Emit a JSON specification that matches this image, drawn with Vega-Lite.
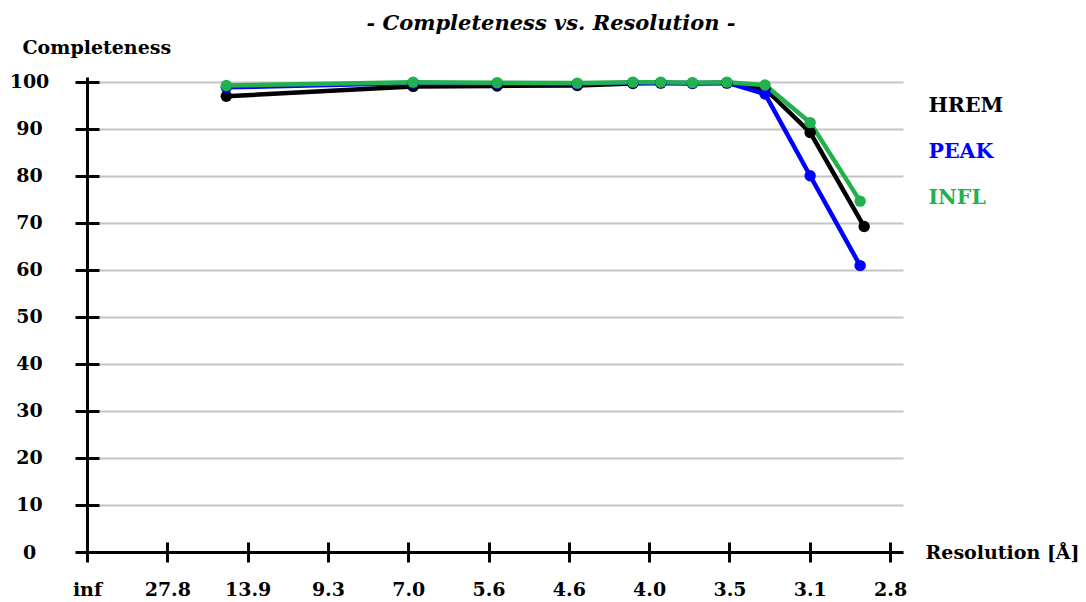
{
  "$schema": "https://vega.github.io/schema/vega-lite/v6.json",
  "width": 816,
  "height": 475,
  "autosize": "none",
  "padding": {"left": 87, "top": 77, "right": 183, "bottom": 50},
  "background": "white",
  "title": {
    "text": "- Completeness vs. Resolution -",
    "font": "DejaVu Serif",
    "fontSize": 21,
    "fontWeight": "bold",
    "fontStyle": "italic",
    "color": "#000000",
    "anchor": "middle",
    "dx": 56,
    "offset": 4
  },
  "config": {
    "view": {"stroke": null},
    "font": "DejaVu Serif"
  },
  "data": {
    "values": [
      {"series": "HREM", "inv_res": 0.0624, "completeness": 96.9},
      {"series": "HREM", "inv_res": 0.1461, "completeness": 99.0},
      {"series": "HREM", "inv_res": 0.1837, "completeness": 99.1},
      {"series": "HREM", "inv_res": 0.2196, "completeness": 99.2},
      {"series": "HREM", "inv_res": 0.2445, "completeness": 99.6},
      {"series": "HREM", "inv_res": 0.2570, "completeness": 99.7},
      {"series": "HREM", "inv_res": 0.2712, "completeness": 99.6},
      {"series": "HREM", "inv_res": 0.2866, "completeness": 99.7},
      {"series": "HREM", "inv_res": 0.3037, "completeness": 98.5},
      {"series": "HREM", "inv_res": 0.3239, "completeness": 89.2},
      {"series": "HREM", "inv_res": 0.3481, "completeness": 69.2},
      {"series": "PEAK", "inv_res": 0.0624, "completeness": 98.8},
      {"series": "PEAK", "inv_res": 0.1461, "completeness": 99.7},
      {"series": "PEAK", "inv_res": 0.1837, "completeness": 99.6},
      {"series": "PEAK", "inv_res": 0.2196, "completeness": 99.5},
      {"series": "PEAK", "inv_res": 0.2445, "completeness": 99.8},
      {"series": "PEAK", "inv_res": 0.2570, "completeness": 99.8},
      {"series": "PEAK", "inv_res": 0.2712, "completeness": 99.7},
      {"series": "PEAK", "inv_res": 0.2866, "completeness": 99.8},
      {"series": "PEAK", "inv_res": 0.3037, "completeness": 97.4},
      {"series": "PEAK", "inv_res": 0.3239, "completeness": 80.0},
      {"series": "PEAK", "inv_res": 0.3463, "completeness": 60.9},
      {"series": "INFL", "inv_res": 0.0624, "completeness": 99.2},
      {"series": "INFL", "inv_res": 0.1461, "completeness": 99.9},
      {"series": "INFL", "inv_res": 0.1837, "completeness": 99.8},
      {"series": "INFL", "inv_res": 0.2196, "completeness": 99.7},
      {"series": "INFL", "inv_res": 0.2445, "completeness": 99.9},
      {"series": "INFL", "inv_res": 0.2570, "completeness": 99.9},
      {"series": "INFL", "inv_res": 0.2712, "completeness": 99.8},
      {"series": "INFL", "inv_res": 0.2866, "completeness": 99.9},
      {"series": "INFL", "inv_res": 0.3037, "completeness": 99.3},
      {"series": "INFL", "inv_res": 0.3239, "completeness": 91.3},
      {"series": "INFL", "inv_res": 0.3463, "completeness": 74.6}
    ]
  },
  "layer": [
    {
      "mark": {"type": "line", "strokeWidth": 4.5},
      "encoding": {
        "x": {
          "field": "inv_res",
          "type": "quantitative",
          "scale": {"domain": [0, 0.3655], "nice": false, "zero": false},
          "axis": {
            "orient": "bottom",
            "values": [0, 0.035971, 0.071942, 0.107914, 0.143885, 0.179856, 0.215827, 0.251799, 0.28777, 0.323741, 0.359712],
            "labelExpr": "['inf','27.8','13.9','9.3','7.0','5.6','4.6','4.0','3.5','3.1','2.8'][round(datum.value*27.8)]",
            "grid": false,
            "tickSize": 10,
            "tickWidth": 3,
            "tickColor": "#000000",
            "domainColor": "#000000",
            "domainWidth": 3,
            "labelFont": "DejaVu Serif",
            "labelFontSize": 19,
            "labelFontWeight": "bold",
            "labelColor": "#000000",
            "labelPadding": 18,
            "labelOverlap": false,
            "labelFlush": false,
            "title": "Resolution [Å]",
            "titleFont": "DejaVu Serif",
            "titleFontSize": 19,
            "titleFontWeight": "bold",
            "titleColor": "#000000",
            "titleX": 838,
            "titleY": 0,
            "titleAlign": "left",
            "titleBaseline": "middle",
            "titleAnchor": null
          }
        },
        "y": {
          "field": "completeness",
          "type": "quantitative",
          "scale": {"domain": [0, 101], "nice": false},
          "axis": {
            "orient": "left",
            "values": [0, 10, 20, 30, 40, 50, 60, 70, 80, 90, 100],
            "grid": true,
            "gridColor": "#c4c4c4",
            "gridWidth": 2,
            "tickSize": 12,
            "tickWidth": 3,
            "tickColor": "#000000",
            "domainColor": "#000000",
            "domainWidth": 3,
            "labelFont": "DejaVu Serif",
            "labelFontSize": 19,
            "labelFontWeight": "bold",
            "labelColor": "#000000",
            "labelAlign": "center",
            "labelBaseline": "middle",
            "labelPadding": 46,
            "title": "Completeness",
            "titleFont": "DejaVu Serif",
            "titleFontSize": 19,
            "titleFontWeight": "bold",
            "titleColor": "#000000",
            "titleAngle": 0,
            "titleX": -65,
            "titleY": -30,
            "titleAlign": "left",
            "titleBaseline": "middle",
            "titleAnchor": null
          }
        },
        "color": {
          "field": "series",
          "type": "nominal",
          "scale": {"domain": ["HREM", "PEAK", "INFL"], "range": ["#000000", "#0000ff", "#22b14c"]},
          "legend": {
            "orient": "none",
            "legendX": 821,
            "legendY": 19,
            "title": null,
            "symbolSize": 0,
            "symbolStrokeWidth": 0,
            "symbolOpacity": 0,
            "labelOffset": 0,
            "labelFont": "DejaVu Serif",
            "labelFontSize": 20.5,
            "labelFontWeight": "bold",
            "labelBaseline": "middle",
            "rowPadding": 24.8,
            "encode": {"labels": {"update": {"fill": {"scale": "color", "field": "value"}}}}
          }
        }
      }
    },
    {
      "mark": {"type": "point", "filled": true, "size": 130, "opacity": 1},
      "encoding": {
        "x": {
          "field": "inv_res",
          "type": "quantitative",
          "axis": {
            "orient": "bottom",
            "values": [0, 0.035971, 0.071942, 0.107914, 0.143885, 0.179856, 0.215827, 0.251799, 0.28777, 0.323741, 0.359712],
            "labels": false,
            "domain": false,
            "grid": false,
            "tickSize": -10,
            "tickWidth": 3,
            "tickColor": "#000000",
            "title": null
          }
        },
        "y": {
          "field": "completeness",
          "type": "quantitative",
          "axis": {
            "orient": "left",
            "values": [0, 10, 20, 30, 40, 50, 60, 70, 80, 90, 100],
            "labels": false,
            "domain": false,
            "grid": false,
            "tickSize": -12,
            "tickWidth": 3,
            "tickColor": "#000000",
            "title": null
          }
        },
        "color": {"field": "series", "type": "nominal", "legend": null}
      }
    }
  ],
  "resolve": {"axis": {"x": "independent", "y": "independent"}}
}
